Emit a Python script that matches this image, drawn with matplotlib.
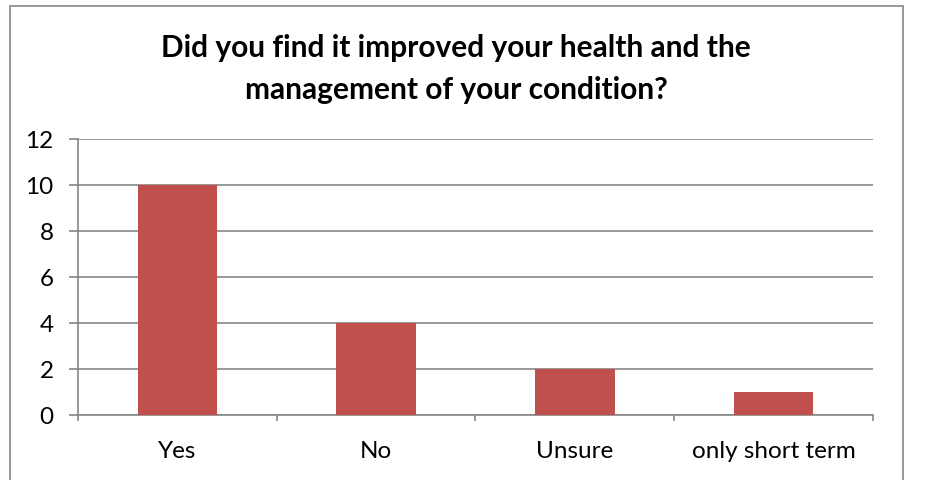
import matplotlib.pyplot as plt
from matplotlib.patches import Rectangle

categories = ["Yes", "No", "Unsure", "only short term"]
counts = [10, 4, 2, 1]
yticks = [0, 2, 4, 6, 8, 10, 12]

plt.rcParams["font.family"] = ["Lato", "DejaVu Sans"]

fig = plt.figure(figsize=(9.37, 4.8), dpi=100)
ax = fig.add_axes([78 / 937, 1 - 415 / 480, 795 / 937, 276 / 480])

grid_c = "#868686"
x = range(len(categories))
ax.bar(x, counts, width=0.4, color="#C0504D", zorder=3)
ax.set_xlim(-0.5, len(categories) - 0.5)
ax.set_ylim(0, 12)
ax.set_yticks(yticks)
ax.set_xticks(list(x))
ax.set_xticklabels(categories)
ax.set_xticks([i - 0.5 for i in range(len(categories) + 1)], minor=True)
ax.yaxis.grid(True, color=grid_c, linewidth=1.2, zorder=0)

for s in ["top", "right"]:
    ax.spines[s].set_visible(False)
for s in ["left", "bottom"]:
    ax.spines[s].set_color(grid_c)
    ax.spines[s].set_linewidth(1.2)

ax.tick_params(axis="y", length=6.5, width=1.2, color=grid_c, labelsize=17.5, pad=11)
ax.tick_params(axis="x", which="major", length=0, labelsize=17.5, pad=19)
ax.tick_params(axis="x", which="minor", length=4.5, width=1.2, color=grid_c)

fig.text(456 / 937, 1 - 69 / 480,
         "Did you find it improved your health and the\nmanagement of your condition?",
         ha="center", va="center", fontsize=21.5, fontweight="bold", linespacing=1.6)

fig.patches.append(Rectangle((10 / 937, -0.1), 893 / 937, 1.1 - 6 / 480,
                             transform=fig.transFigure, fill=False,
                             edgecolor=grid_c, linewidth=1.2))

fig.savefig("out.png", dpi=100)
